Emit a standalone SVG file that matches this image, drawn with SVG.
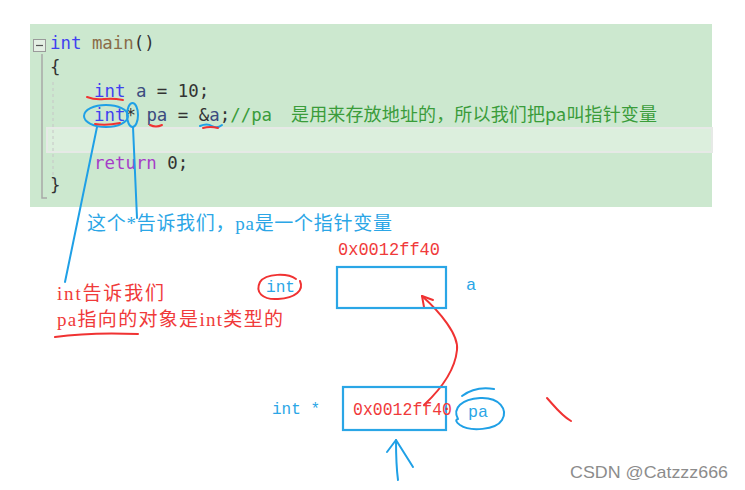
<svg xmlns="http://www.w3.org/2000/svg" width="745" height="490" viewBox="0 0 745 490">
<style>
.code{font-family:"DejaVu Sans Mono",monospace;font-size:17.4px}
.kw{fill:#4040f0}
.fn{fill:#8a6c48}
.id{fill:#3c4c80}
.pn{fill:#333333}
.rt{fill:#a63cc8}
.cm{fill:#3a9c3a}
.cjk{font-family:"Liberation Serif","Noto Sans CJK SC",serif}
.mono{font-family:"Liberation Mono",monospace}
.blue{fill:#2ba6e6}
.red{fill:#f03a3a}
.bs{fill:none;stroke:#1fa0e6;stroke-width:2;stroke-linecap:round;stroke-linejoin:round}
.rs{fill:none;stroke:#f03232;stroke-width:2;stroke-linecap:round;stroke-linejoin:round}
.box{fill:none;stroke:#2aa6e6;stroke-width:2.2}
</style>
<rect x="0" y="0" width="745" height="490" fill="#ffffff"/>
<g id="code-panel">
<rect x="30" y="24" width="682" height="183" fill="#cce8cf"/>
<rect x="47" y="128" width="665" height="24" fill="#dcefdd" stroke="#e6e9e6" stroke-width="2"/>
<rect x="33.5" y="39.5" width="12" height="12" fill="#e4efe4" stroke="#9a9a9a" stroke-width="1"/>
<line x1="36" y1="45.5" x2="43" y2="45.5" stroke="#555" stroke-width="1.2"/>
<polyline points="42,54 42,198 47,198" fill="none" stroke="#a8a8a8" stroke-width="1.5"/>
<line x1="53" y1="82" x2="53" y2="182" stroke="#c6c6c6" stroke-width="1" stroke-dasharray="3,3"/>
<text class="code" x="50" y="49"><tspan class="kw">int</tspan><tspan class="fn"> main</tspan><tspan class="pn">()</tspan></text>
<text class="code pn" x="50" y="73">{</text>
<text class="code" x="94" y="97"><tspan class="kw">int</tspan><tspan class="id"> a</tspan><tspan class="pn"> = 10;</tspan></text>
<text class="code" x="94" y="121"><tspan class="kw">int</tspan><tspan class="pn">*</tspan><tspan class="id"> pa</tspan><tspan class="pn"> = &amp;</tspan><tspan class="id">a</tspan><tspan class="pn">;</tspan><tspan class="cm">//pa</tspan></text>
<text x="291" y="121" font-family="'Noto Sans CJK SC',sans-serif" font-size="18" class="cm" textLength="366" lengthAdjust="spacing">是用来存放地址的，所以我们把pa叫指针变量</text>
<text class="code" x="94" y="169"><tspan class="rt">return</tspan><tspan class="pn"> 0;</tspan></text>
<text class="code pn" x="50" y="191">}</text>
</g>
<g id="code-marks">
<ellipse cx="106" cy="116" rx="22" ry="11" class="bs"/>
<ellipse cx="132.5" cy="115" rx="5.5" ry="12" class="bs"/>
<path d="M87 97 Q95 100 104 99 T123 100" class="rs"/>
<path d="M95 124 Q106 126 120 123" class="rs"/>
<path d="M150 125 Q156 128 162 125" class="rs"/>
<path d="M200 126 Q207 123 212 126 T222 125" class="bs" stroke-width="1.6"/>
<path d="M203 128 Q210 126 218 128" class="rs" stroke-width="1.6"/>
</g>
<g id="connectors">
<line x1="97" y1="127" x2="65" y2="282" class="bs"/>
<line x1="133" y1="127" x2="137" y2="218" class="bs"/>
<path d="M424 405 C440 390 455 370 457 350 C459 335 440 312 422 296" class="rs"/>
<path d="M433 300 L422 296 L424 307" class="rs"/>
<path d="M398 480 C396 465 396 452 396 440" class="bs"/>
<path d="M387 452 L396 440 L413 467" class="bs"/>
</g>
<g id="note-star">
<text x="87" y="230" class="cjk blue" font-size="19" textLength="305" lengthAdjust="spacing">这个*告诉我们，pa是一个指针变量</text>
</g>
<g id="note-int">
<text x="57" y="300" class="cjk red" font-size="19" textLength="107" lengthAdjust="spacing">int告诉我们</text>
<text x="57" y="326" class="cjk red" font-size="19" textLength="226" lengthAdjust="spacing">pa指向的对象是int类型的</text>
<path d="M55 337 Q90 332 138 334" class="rs"/>
</g>
<g id="node-a">
<text x="338" y="255" class="mono red" font-size="18" textLength="102" lengthAdjust="spacingAndGlyphs">0x0012ff40</text>
<rect x="337" y="267" width="109" height="41" class="box"/>
<text x="466" y="290" class="mono blue" font-size="17">a</text>
<text x="266" y="292" class="mono blue" font-size="16" textLength="29" lengthAdjust="spacingAndGlyphs">int</text>
<path d="M296 279 C288 273 266 273 260 282 C255 292 262 300 278 299 C296 298 304 290 300 281" class="rs" stroke-width="1.6"/>
</g>
<g id="node-pa">
<rect x="343" y="387" width="103" height="43" class="box"/>
<text x="353" y="415" class="mono red" font-size="18" textLength="99" lengthAdjust="spacingAndGlyphs">0x0012ff40</text>
<text x="272" y="414" class="mono blue" font-size="17" textLength="48" lengthAdjust="spacingAndGlyphs">int *</text>
<text x="468" y="417" class="mono blue" font-size="17" textLength="20" lengthAdjust="spacingAndGlyphs">pa</text>
<path d="M458 419 C452 408 462 399 480 398 C500 397 508 410 502 420 C496 430 470 432 460 425 C456 422 455 420 458 419" class="bs" stroke-width="1.8"/>
<path d="M462 396 C470 390 482 387 494 389" class="bs" stroke-width="1.8"/>
<path d="M547 398 C556 408 562 416 571 421" class="rs"/>
</g>
<text x="570" y="478" font-family="'Liberation Sans',sans-serif" font-size="17" fill="#8c8c8c" textLength="158" lengthAdjust="spacingAndGlyphs">CSDN @Catzzz666</text>
</svg>
